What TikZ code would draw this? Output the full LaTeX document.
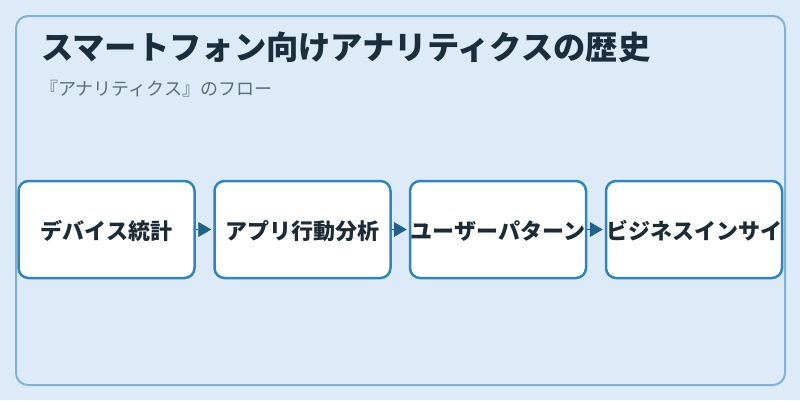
\documentclass[tikz,border=0pt]{standalone}
\usepackage{fontspec}
\setmainfont{Noto Sans CJK JP}
\usetikzlibrary{arrows.meta}
\definecolor{bgc}{HTML}{DCEBF7}
\definecolor{panelc}{HTML}{7FB3D5}
\definecolor{boxc}{HTML}{2E86C1}
\definecolor{arrc}{HTML}{1F618D}
\definecolor{titlec}{HTML}{1A2E3D}
\definecolor{subc}{HTML}{5D6D7E}
\definecolor{boxtxt}{HTML}{1C2B36}
\tikzset{
  x=1pt,y=-1pt,
  stepbox/.style={draw=boxc,line width=2.5pt,fill=white,rounded corners=10pt,
    minimum width=176pt,minimum height=97pt,inner sep=0pt,
    text height=23.4pt,text depth=2.6pt,
    font=\fontsize{22}{24}\selectfont\bfseries,text=boxtxt},
  flowarrow/.style={draw=arrc,fill=arrc,line width=0.8pt,
    -{Triangle[length=13pt,width=15pt]},shorten >=2pt},
}
\begin{document}
\begin{tikzpicture}
\useasboundingbox (0,0) rectangle (800,400);
\fill[bgc] (0,0) rectangle (800,400);
\draw[panelc,line width=2pt,rounded corners=12pt] (16,16) rectangle (785,385);
\node[anchor=west,inner sep=0pt,text=titlec,font=\fontsize{32.3}{36}\selectfont\bfseries] (title) at (41,47.5) {スマートフォン向けアナリティクスの歴史};
\node[anchor=west,inner sep=0pt,text=subc,font=\fontsize{18}{20}\selectfont] (sub) at (40,89) {『アナリティクス』のフロー};
\node[stepbox] (b1) at (106.5,229.5) {デバイス統計};
\node[stepbox] (b2) at (302.5,229.5) {アプリ行動分析};
\node[stepbox] (b3) at (498,229.5) {ユーザーパターン};
\node[stepbox] (b4) at (694,229.5) {ビジネスインサイ};
\draw[flowarrow] (b1) -- (b2);
\draw[flowarrow] (b2) -- (b3);
\draw[flowarrow] (b3) -- (b4);
\end{tikzpicture}
\end{document}
